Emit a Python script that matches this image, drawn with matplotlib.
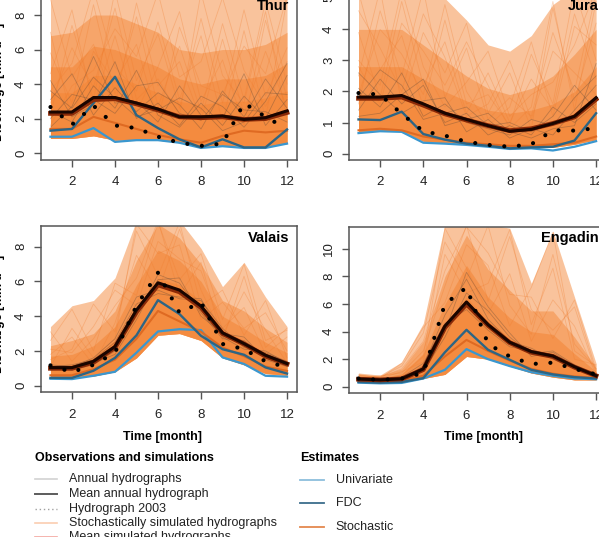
# --- plot.py ---
# DESCRIPTION: monthly discharge regimes, observed vs. estimated, four regions

import matplotlib.pyplot as plt
import numpy as np

# --- --- --- ---
# --- TOGGLES ---
# --- --- --- ---
W, H = 599, 537
tick_fontsize = 9.5
label_fontsize = 9
title_fontsize = 10.5
legend_fontsize = 9
axis_color = '#555555'
plt.rcParams['font.family'] = ['Liberation Sans', 'DejaVu Sans']

c_orange = '#f4883a'
c_uni = '#3a97cf'
c_fdc = '#2d6584'
c_sto = '#df6a22'
c_annual = '#5a4637'

# --- --- --- --- --- --- -
# --- DATA (read off fig) ---
# --- --- --- --- --- --- -
months = np.arange(1, 13)

# --- Thur ---
thur_mean = [2.38, 2.38, 3.22, 3.22, 2.9, 2.55, 2.1, 2.1, 2.15, 1.95, 2.05, 2.45]
thur_simmean = [2.3, 2.3, 3.1, 3.15, 2.85, 2.5, 2.1, 2.05, 2.1, 1.95, 2.0, 2.35]
thur_2003 = [2.67, 1.65, 2.75, 1.6, 1.45, 0.95, 0.6, 0.42, 0.55, 2.9, 2.1, 1.4]
thur_uni = [0.95, 0.95, 1.45, 0.65, 0.75, 0.75, 0.6, 0.3, 0.4, 0.3, 0.3, 0.55]
thur_fdc = [1.3, 1.4, 2.9, 4.42, 2.2, 1.45, 0.8, 0.33, 0.8, 0.33, 0.33, 1.37]
thur_sto = [1.4, 1.4, 2.1, 1.75, 1.4, 1.05, 0.8, 0.6, 1.0, 1.3, 1.2, 1.3]
thur_lo = [0.85, 0.85, 1.0, 0.75, 0.8, 0.75, 0.6, 0.35, 0.45, 0.4, 0.4, 0.55]
thur_q50 = [3.5, 3.5, 4.5, 4.5, 4.0, 3.5, 3.0, 2.8, 3.0, 3.0, 3.2, 3.6]
thur_q75 = [5.0, 5.0, 6.2, 6.0, 5.5, 5.0, 4.3, 4.0, 4.3, 4.3, 4.5, 5.2]
thur_q90 = [6.8, 7.0, 8.0, 8.0, 7.5, 7.0, 6.0, 5.8, 6.0, 6.0, 6.3, 7.0]
thur_top = [9.5, 9.5, 9.5, 9.5, 9.5, 9.5, 9.5, 9.5, 9.5, 9.5, 9.5, 9.5]
thur_sims = [
    [5.8, 2.9, 8.6, 3.4, 7.9, 2.7, 6.2, 2.4, 7.5, 3.1, 8.8, 4.0],
    [2.2, 7.4, 3.1, 9.4, 4.2, 6.9, 2.6, 7.8, 2.9, 8.3, 3.3, 6.1],
    [8.9, 4.4, 6.3, 2.8, 8.7, 3.9, 5.3, 1.9, 6.6, 2.3, 5.9, 2.6],
    [3.6, 5.2, 9.5, 5.0, 3.6, 7.6, 3.1, 6.8, 1.8, 7.1, 2.0, 8.9],
    [4.6, 8.3, 2.7, 6.8, 2.4, 5.0, 8.2, 3.0, 5.4, 1.6, 7.7, 3.2],
    [1.6, 3.9, 4.8, 7.2, 5.6, 9.3, 4.4, 5.3, 9.0, 4.8, 2.7, 5.3],
    [7.0, 1.9, 5.9, 4.1, 6.3, 1.9, 7.3, 3.9, 3.4, 6.2, 4.6, 9.1],
    [2.9, 6.1, 3.8, 8.4, 3.1, 4.3, 2.2, 9.3, 4.5, 2.9, 8.2, 1.9],
]
thur_years = [
    [2.4, 1.8, 3.9, 2.6, 4.8, 2.2, 1.5, 2.9, 1.6, 3.3, 2.0, 4.5],
    [3.1, 4.6, 2.2, 3.8, 2.4, 3.5, 2.8, 1.4, 3.6, 2.1, 4.3, 2.6],
    [1.5, 2.7, 5.6, 2.9, 3.0, 1.8, 3.9, 2.2, 2.0, 4.6, 1.6, 3.1],
    [4.2, 2.1, 2.8, 5.3, 2.0, 2.9, 1.6, 3.3, 2.7, 1.5, 3.0, 5.2],
    [2.0, 3.4, 3.1, 2.3, 3.9, 4.1, 2.3, 1.9, 3.4, 2.5, 2.4, 1.8],
    [3.6, 2.6, 4.4, 3.2, 2.1, 2.5, 3.2, 2.6, 1.3, 1.8, 3.5, 3.4],
]

# --- Jura ---
jura_mean = [1.82, 1.82, 1.87, 1.6, 1.3, 1.1, 0.9, 0.72, 0.78, 0.97, 1.2, 1.8]
jura_simmean = [1.78, 1.78, 1.82, 1.56, 1.28, 1.08, 0.9, 0.74, 0.8, 0.97, 1.18, 1.75]
jura_2003 = [1.95, 1.9, 1.28, 0.72, 0.58, 0.38, 0.28, 0.22, 0.3, 0.75, 0.74, 0.82]
jura_uni = [0.66, 0.72, 0.7, 0.35, 0.32, 0.28, 0.22, 0.15, 0.17, 0.1, 0.22, 0.4]
jura_fdc = [1.1, 1.08, 1.35, 0.63, 0.45, 0.32, 0.25, 0.17, 0.2, 0.22, 0.42, 1.3]
jura_sto = [0.75, 0.8, 0.75, 0.55, 0.45, 0.35, 0.3, 0.25, 0.25, 0.3, 0.35, 0.55]
jura_lo = [0.7, 0.75, 0.72, 0.4, 0.35, 0.3, 0.25, 0.2, 0.2, 0.2, 0.3, 0.45]
jura_q50 = [1.9, 1.9, 1.9, 1.6, 1.3, 1.1, 0.95, 0.85, 0.9, 1.0, 1.3, 1.9]
jura_q75 = [2.8, 2.8, 2.8, 2.4, 2.0, 1.7, 1.4, 1.3, 1.4, 1.6, 2.0, 2.8]
jura_q90 = [4.0, 4.0, 4.0, 3.5, 3.0, 2.5, 2.1, 1.9, 2.1, 2.5, 3.2, 4.0]
jura_top = [5.3, 5.3, 5.3, 5.3, 5.0, 4.3, 3.5, 3.3, 3.8, 4.8, 5.3, 5.3]
jura_sims = [
    [3.9, 1.8, 4.9, 2.2, 3.6, 1.3, 2.6, 1.0, 2.4, 1.4, 4.5, 2.4],
    [1.6, 4.6, 2.5, 5.3, 1.8, 3.4, 1.1, 1.8, 1.2, 3.9, 2.0, 5.2],
    [5.2, 2.7, 3.8, 1.5, 4.3, 1.6, 1.9, 0.9, 3.2, 1.6, 5.3, 3.0],
    [2.5, 5.3, 1.6, 3.9, 2.6, 4.2, 1.3, 2.6, 0.8, 4.7, 1.7, 4.2],
    [3.0, 2.2, 5.3, 2.8, 1.5, 2.3, 3.3, 1.2, 1.9, 2.3, 3.5, 5.3],
    [4.6, 3.4, 2.0, 4.5, 3.1, 1.2, 1.6, 3.0, 1.1, 3.3, 2.6, 1.9],
    [1.9, 4.0, 3.2, 1.9, 4.8, 2.0, 0.9, 1.5, 3.6, 1.2, 4.1, 3.5],
    [2.8, 1.6, 4.2, 3.3, 2.2, 3.6, 2.2, 0.8, 1.5, 4.9, 1.4, 4.9],
]
jura_years = [
    [2.1, 1.5, 2.6, 1.2, 1.6, 1.0, 0.8, 0.6, 1.1, 0.9, 1.8, 2.5],
    [1.4, 2.4, 1.6, 2.2, 1.0, 1.3, 0.6, 0.9, 0.6, 1.5, 1.0, 1.6],
    [2.6, 1.9, 1.3, 1.7, 1.8, 0.7, 1.1, 0.5, 0.8, 0.6, 1.4, 2.2],
    [1.8, 2.7, 2.2, 1.1, 1.3, 1.5, 0.9, 1.0, 0.7, 1.2, 2.2, 1.4],
    [1.2, 1.3, 1.9, 2.4, 0.9, 1.1, 1.3, 0.7, 0.5, 0.8, 0.9, 2.9],
]

# --- Valais ---
valais_mean = [1.04, 1.04, 1.4, 2.25, 4.35, 5.92, 5.5, 4.58, 3.04, 2.42, 1.75, 1.27]
valais_simmean = [1.0, 1.0, 1.35, 2.2, 4.25, 5.8, 5.4, 4.5, 3.0, 2.4, 1.7, 1.25]
valais_2003 = [1.17, 0.78, 1.2, 1.9, 4.6, 6.5, 4.2, 4.8, 2.4, 2.1, 1.4, 1.05]
valais_uni = [0.4, 0.38, 0.57, 0.8, 1.9, 3.12, 3.25, 3.2, 1.63, 1.25, 0.57, 0.52]
valais_fdc = [0.45, 0.45, 0.86, 1.6, 2.9, 4.92, 4.12, 2.87, 2.1, 1.78, 1.05, 0.7]
valais_sto = [0.6, 0.6, 0.95, 1.5, 2.7, 4.3, 3.7, 3.1, 2.2, 1.7, 1.1, 0.85]
valais_lo = [0.5, 0.5, 0.55, 0.8, 1.6, 2.9, 3.0, 2.6, 1.6, 1.2, 0.7, 0.6]
valais_q50 = [1.2, 1.2, 1.6, 2.6, 4.5, 6.2, 5.8, 4.9, 3.2, 2.6, 1.9, 1.4]
valais_q75 = [1.7, 1.8, 2.3, 3.4, 5.8, 7.8, 7.2, 6.0, 4.0, 3.3, 2.5, 1.9]
valais_q90 = [2.3, 2.6, 3.0, 4.3, 7.2, 9.3, 8.5, 7.0, 4.9, 4.3, 3.3, 2.5]
valais_top = [3.4, 4.6, 4.9, 6.2, 9.5, 9.5, 9.5, 7.9, 5.7, 7.1, 5.1, 3.4]
valais_sims = [
    [2.6, 4.4, 2.0, 5.9, 5.2, 9.4, 6.1, 7.6, 3.8, 7.0, 2.6, 3.2],
    [1.5, 2.1, 4.7, 3.1, 8.9, 6.3, 9.4, 4.6, 5.5, 2.9, 4.9, 1.6],
    [3.1, 1.4, 2.7, 4.6, 6.2, 9.5, 5.2, 7.1, 2.6, 6.3, 2.2, 3.3],
    [1.1, 3.3, 1.6, 2.7, 9.3, 7.6, 8.1, 3.8, 4.8, 3.3, 4.2, 2.0],
    [2.1, 1.9, 3.4, 5.5, 4.6, 8.3, 7.3, 6.6, 3.3, 4.5, 1.8, 2.8],
    [1.8, 2.8, 1.2, 3.6, 7.5, 5.4, 9.0, 5.5, 2.9, 5.4, 3.2, 1.3],
]
valais_years = [
    [1.0, 0.9, 1.2, 2.0, 4.0, 6.4, 5.9, 4.2, 2.7, 2.6, 1.6, 1.2],
    [1.2, 1.1, 1.6, 2.7, 5.1, 5.5, 5.0, 4.9, 3.3, 2.2, 1.9, 1.4],
    [0.9, 1.0, 1.3, 1.8, 3.8, 6.1, 6.2, 4.0, 3.0, 2.8, 1.5, 1.1],
    [1.1, 1.2, 1.5, 2.5, 4.7, 5.3, 5.1, 5.0, 2.8, 2.1, 2.0, 1.3],
]

# --- Engadin ---
engadin_mean = [0.56, 0.5, 0.58, 1.3, 4.4, 6.15, 4.5, 3.23, 2.55, 2.23, 1.45, 0.8]
engadin_simmean = [0.55, 0.5, 0.57, 1.25, 4.3, 6.0, 4.45, 3.2, 2.5, 2.2, 1.42, 0.8]
engadin_2003 = [0.6, 0.5, 0.6, 1.0, 6.0, 7.2, 3.1, 2.2, 1.65, 1.75, 1.3, 0.9]
engadin_uni = [0.3, 0.25, 0.28, 0.6, 1.23, 2.73, 2.0, 1.5, 1.06, 0.8, 0.6, 0.55]
engadin_fdc = [0.35, 0.3, 0.35, 0.63, 2.5, 4.13, 2.68, 1.96, 1.23, 0.9, 0.7, 0.6]
engadin_sto = [0.45, 0.4, 0.45, 0.8, 2.2, 3.4, 2.6, 1.9, 1.3, 0.95, 0.75, 0.65]
engadin_lo = [0.4, 0.35, 0.4, 0.6, 0.9, 2.2, 2.0, 1.5, 1.0, 0.7, 0.5, 0.5]
engadin_q50 = [0.6, 0.55, 0.7, 1.6, 4.3, 6.5, 4.8, 3.5, 2.7, 2.4, 1.5, 0.8]
engadin_q75 = [0.75, 0.65, 0.95, 2.4, 6.0, 8.8, 6.5, 5.0, 4.0, 3.8, 2.4, 1.1]
engadin_q90 = [0.9, 0.8, 1.3, 3.3, 8.0, 11.0, 8.5, 7.0, 5.5, 5.5, 3.6, 1.4]
engadin_top = [1.0, 0.85, 1.8, 4.6, 11.8, 11.8, 11.8, 11.5, 7.5, 11.3, 6.5, 1.7]
engadin_sims = [
    [0.8, 0.7, 1.5, 3.9, 10.5, 7.8, 11.7, 5.9, 3.8, 9.6, 3.1, 1.3],
    [0.6, 0.8, 1.0, 2.6, 7.3, 11.7, 6.2, 10.9, 5.6, 4.1, 5.8, 1.0],
    [0.9, 0.6, 1.7, 4.3, 6.1, 10.3, 8.8, 4.4, 7.2, 11.2, 2.6, 1.5],
    [0.7, 0.5, 0.8, 2.2, 11.5, 8.6, 5.3, 8.2, 3.3, 6.3, 4.4, 0.9],
    [0.5, 0.7, 1.3, 3.3, 8.4, 11.6, 9.7, 6.7, 6.5, 3.5, 6.3, 1.2],
    [0.8, 0.6, 1.1, 1.8, 9.6, 6.8, 7.5, 11.4, 4.5, 8.6, 2.0, 1.6],
]
engadin_years = [
    [0.6, 0.5, 0.6, 1.5, 5.2, 7.8, 4.9, 3.3, 2.8, 2.0, 1.3, 0.8],
    [0.5, 0.5, 0.5, 1.1, 3.6, 6.8, 5.5, 3.6, 2.4, 2.6, 1.6, 0.9],
    [0.6, 0.6, 0.7, 1.7, 4.6, 5.6, 4.1, 2.9, 2.6, 2.3, 1.4, 0.7],
    [0.5, 0.5, 0.6, 1.2, 4.0, 8.3, 5.8, 3.9, 2.2, 2.5, 1.5, 0.8],
]

panels = [
    # name, data, ylim, yticks, (x0, x1, ytop, ybot) in pixels
    ('Thur', dict(mean=thur_mean, simmean=thur_simmean, obs=thur_2003, uni=thur_uni, fdc=thur_fdc,
                  sto=thur_sto, lo=thur_lo, bands=[thur_top, thur_q90, thur_q75, thur_q50],
                  sims=thur_sims, years=thur_years),
     (-0.37, 9.2), [0, 2, 4, 6, 8], (41, 296.5, -5.7, 159.5)),
    ('Jura', dict(mean=jura_mean, simmean=jura_simmean, obs=jura_2003, uni=jura_uni, fdc=jura_fdc,
                  sto=jura_sto, lo=jura_lo, bands=[jura_top, jura_q90, jura_q75, jura_q50],
                  sims=jura_sims, years=jura_years),
     (-0.19, 5.13), [0, 1, 2, 3, 4, 5], (349, 605.6, -5.7, 159.5)),
    ('Valais', dict(mean=valais_mean, simmean=valais_simmean, obs=valais_2003, uni=valais_uni, fdc=valais_fdc,
                    sto=valais_sto, lo=valais_lo, bands=[valais_top, valais_q90, valais_q75, valais_q50],
                    sims=valais_sims, years=valais_years),
     (-0.38, 9.17), [0, 2, 4, 6, 8], (41, 296.5, 226.3, 392.3)),
    ('Engadin', dict(mean=engadin_mean, simmean=engadin_simmean, obs=engadin_2003, uni=engadin_uni, fdc=engadin_fdc,
                     sto=engadin_sto, lo=engadin_lo, bands=[engadin_top, engadin_q90, engadin_q75, engadin_q50],
                     sims=engadin_sims, years=engadin_years),
     (-0.45, 11.6), [0, 2, 4, 6, 8, 10], (349, 605.6, 226.8, 393)),
]

band_alphas = [0.5, 0.5, 0.6, 0.7]

############################
# --- START THE PLOTTING ---
############################
fig = plt.figure(figsize=(W / 100, H / 100), dpi=100)

for name, d, ylim, yticks, (x0, x1, ytop, ybot) in panels:
    ax = fig.add_axes([x0 / W, 1 - ybot / H, (x1 - x0) / W, (ybot - ytop) / H])

    # stochastic simulation cloud
    for upper, alpha in zip(d['bands'], band_alphas):
        ax.fill_between(months, d['lo'], upper, color=c_orange, alpha=alpha, lw=0)
    for s in d['sims']:
        ax.plot(months, s, color='#f07a2a', alpha=0.3, lw=0.6)

    # observed annual hydrographs
    for yr in d['years']:
        ax.plot(months, yr, color=c_annual, alpha=0.35, lw=0.6)

    # estimates
    ax.plot(months, d['uni'], color=c_uni, lw=1.6)
    ax.plot(months, d['sto'], color=c_sto, lw=1.5)
    ax.plot(months, d['fdc'], color=c_fdc, lw=1.7)

    # means + 2003
    ax.plot(months, d['simmean'], color='#8a2a08', lw=3.4)
    ax.plot(months, d['mean'], color='#1a0500', lw=2.2)
    ax.plot(months, d['obs'], color='black', lw=3.0, linestyle=(0, (0.01, 3.5)),
            dash_capstyle='round')

    ax.set_xlim(0.56, 12.44)
    ax.set_ylim(*ylim)
    ax.set_xticks([2, 4, 6, 8, 10, 12])
    ax.set_yticks(yticks)

    for sp in ax.spines.values():
        sp.set_color(axis_color)
        sp.set_linewidth(1.1)
    ax.tick_params(axis='both', colors=axis_color, labelcolor='#222222', length=5, width=1.0,
                   labelsize=tick_fontsize)
    ax.tick_params(axis='x', pad=7)
    ax.tick_params(axis='y', pad=5, labelrotation=90)
    plt.setp(ax.get_yticklabels(), va='center')

    ax.text(1 - 7 / (x1 - x0), 1 - 4.5 / (ybot - ytop), name, transform=ax.transAxes,
            ha='right', va='top', fontsize=title_fontsize, fontweight='bold')

# --- --- --- --- --- ---
# --- LABELS + LEGEND ---
# --- --- --- --- --- ---
lax = fig.add_axes([0, 0, 1, 1])
lax.set_xlim(0, W)
lax.set_ylim(H, 0)
lax.axis('off')

for yc in [82, 314]:
    lax.text(-1, yc, 'Discharge [mm d$^{-1}$]', rotation=90, ha='center', va='center',
             fontsize=label_fontsize, fontweight='bold')
for xc in [162.5, 484]:
    lax.text(xc, 437, 'Time [month]', ha='center', va='center',
             fontsize=label_fontsize, fontweight='bold')

lax.text(35, 458, 'Observations and simulations', ha='left', va='center',
         fontsize=legend_fontsize, fontweight='bold')
lax.text(300, 458, 'Estimates', ha='left', va='center',
         fontsize=legend_fontsize, fontweight='bold')

obs_entries = [
    ('Annual hydrographs', dict(color='#d2d2d2', lw=1.2)),
    ('Mean annual hydrograph', dict(color='#5c5c5c', lw=1.4)),
    ('Hydrograph 2003', dict(color='#a0a0a0', lw=1.0, linestyle=(0, (1, 2)))),
    ('Stochastically simulated hydrographs', dict(color='#fbcdb0', lw=1.2)),
    ('Mean simulated hydrographs', dict(color='#f3a7a0', lw=1.2)),
]
obs_rows = [479.3, 494, 509, 523.3, 536.7]
for (lbl, style), yc in zip(obs_entries, obs_rows):
    lax.plot([35, 57], [yc, yc], **style)
    lax.text(69, yc, lbl, ha='left', va='center', fontsize=legend_fontsize, color='#222222')

est_entries = [
    ('Univariate', '#8cbedc'),
    ('FDC', '#3c6d8b'),
    ('Stochastic', '#e4884e'),
]
est_rows = [480, 503.3, 526.7]
for (lbl, col), yc in zip(est_entries, est_rows):
    lax.plot([300, 324], [yc, yc], color=col, lw=1.3)
    lax.text(335.7, yc, lbl, ha='left', va='center', fontsize=legend_fontsize, color='#222222')

fig.savefig('out.png', dpi=100)
